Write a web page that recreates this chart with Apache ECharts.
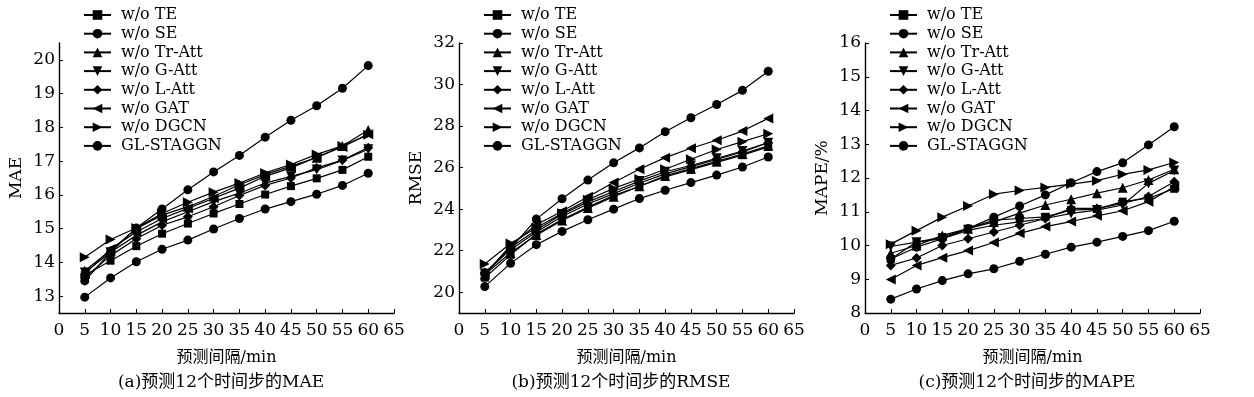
<!DOCTYPE html>
<html>
<head>
<meta charset="utf-8">
<script src="https://cdn.jsdelivr.net/npm/echarts@6/dist/echarts.min.js"></script>
<style>
html, body { margin: 0; padding: 0; background: #fff; }
#chart { width: 1254px; height: 397px; }
</style>
</head>
<body>
<div id="chart"></div>
<script>
// prediction horizons (min)
var steps = [5, 10, 15, 20, 25, 30, 35, 40, 45, 50, 55, 60];
var names = ["w/o TE", "w/o SE", "w/o Tr-Att", "w/o G-Att", "w/o L-Att", "w/o GAT", "w/o DGCN", "GL-STAGGN"];

// (a) MAE
var maeTE    = [13.62, 14.05, 14.48, 14.85, 15.15, 15.45, 15.73, 16.01, 16.26, 16.49, 16.74, 17.13];
var maeSE    = [13.45, 14.30, 15.02, 15.58, 16.15, 16.68, 17.17, 17.71, 18.21, 18.64, 19.16, 19.83];
var maeTrAtt = [13.75, 14.35, 15.00, 15.40, 15.65, 15.95, 16.30, 16.60, 16.85, 17.10, 17.45, 17.92];
var maeGAtt  = [13.70, 14.30, 14.80, 15.20, 15.50, 15.80, 16.05, 16.35, 16.55, 16.75, 17.02, 17.35];
var maeLAtt  = [13.55, 14.20, 14.70, 15.10, 15.35, 15.65, 15.98, 16.28, 16.50, 16.80, 17.03, 17.40];
var maeGAT   = [13.65, 14.40, 14.90, 15.30, 15.60, 15.90, 16.20, 16.55, 16.80, 17.12, 17.42, 17.80];
var maeDGCN  = [14.15, 14.68, 15.02, 15.45, 15.78, 16.08, 16.35, 16.65, 16.90, 17.20, 17.45, 17.78];
var maeGL    = [12.97, 13.54, 14.02, 14.39, 14.66, 14.99, 15.30, 15.58, 15.80, 16.02, 16.28, 16.64];

// (b) RMSE
var rmseTE    = [20.70, 21.80, 22.80, 23.50, 24.10, 24.65, 25.10, 25.55, 25.90, 26.25, 26.60, 27.00];
var rmseSE    = [20.90, 22.10, 23.52, 24.50, 25.40, 26.23, 26.95, 27.73, 28.40, 29.04, 29.72, 30.64];
var rmseTrAtt = [20.85, 21.90, 22.75, 23.45, 24.05, 24.60, 25.10, 25.60, 25.95, 26.30, 26.65, 27.05];
var rmseGAtt  = [20.90, 22.15, 23.00, 23.75, 24.35, 24.85, 25.35, 25.80, 26.10, 26.45, 26.80, 27.20];
var rmseLAtt  = [20.95, 22.05, 22.90, 23.65, 24.25, 24.75, 25.25, 25.70, 26.05, 26.40, 26.75, 27.20];
var rmseGAT   = [20.85, 22.25, 23.25, 23.90, 24.60, 25.28, 25.92, 26.48, 26.93, 27.32, 27.76, 28.37];
var rmseDGCN  = [21.36, 22.35, 23.10, 23.80, 24.45, 25.00, 25.45, 25.92, 26.40, 26.87, 27.25, 27.63];
var rmseGL    = [20.27, 21.39, 22.29, 22.93, 23.49, 24.00, 24.51, 24.91, 25.28, 25.64, 26.03, 26.51];

// (c) MAPE (%)
var mapeTE    = [9.60, 10.10, 10.25, 10.50, 10.75, 10.80, 10.85, 11.05, 11.08, 11.30, 11.40, 11.68];
var mapeSE    = [9.60, 9.95, 10.20, 10.50, 10.84, 11.17, 11.50, 11.86, 12.19, 12.45, 12.98, 13.52];
var mapeTrAtt = [9.77, 10.00, 10.30, 10.50, 10.70, 10.96, 11.20, 11.37, 11.55, 11.71, 11.94, 12.26];
var mapeGAtt  = [9.97, 10.10, 10.20, 10.45, 10.60, 10.70, 10.80, 10.95, 11.05, 11.20, 11.84, 12.22];
var mapeLAtt  = [9.41, 9.63, 10.00, 10.20, 10.40, 10.60, 10.80, 11.10, 11.10, 11.25, 11.45, 11.89];
var mapeGAT   = [8.99, 9.41, 9.64, 9.85, 10.09, 10.36, 10.56, 10.71, 10.88, 11.03, 11.30, 11.74];
var mapeDGCN  = [10.04, 10.44, 10.84, 11.17, 11.52, 11.63, 11.72, 11.82, 11.92, 12.11, 12.24, 12.46];
var mapeGL    = [8.41, 8.71, 8.96, 9.16, 9.31, 9.53, 9.74, 9.95, 10.10, 10.27, 10.44, 10.72];

var maeTicks = [13, 14, 15, 16, 17, 18, 19, 20];
var rmseTicks = [20, 22, 24, 26, 28, 30, 32];
var mapeTicks = [8, 9, 10, 11, 12, 13, 14, 15, 16];

var serif = "DejaVu Serif";
var zhFont = "DejaVu Serif, Noto Sans CJK SC";

var symbols = [
    "rect",
    "circle",
    "triangle",
    "path://M0,0L10,0L5,9Z",
    "diamond",
    "path://M0,5L9,0L9,10Z",
    "path://M0,0L9,5L0,10Z",
    "circle"
];
var symbolSizes = [8, 9, 10, 10, 10, 10, 10, 9];

var panels = [
    { left: 59,  yName: "MAE",    min: 12.5, max: 20.5, ticks: maeTicks,
      caption: "(a)预测12个时间步的MAE",
      data: [maeTE, maeSE, maeTrAtt, maeGAtt, maeLAtt, maeGAT, maeDGCN, maeGL] },
    { left: 459, yName: "RMSE",   min: 19,   max: 32,   ticks: rmseTicks,
      caption: "(b)预测12个时间步的RMSE",
      data: [rmseTE, rmseSE, rmseTrAtt, rmseGAtt, rmseLAtt, rmseGAT, rmseDGCN, rmseGL] },
    { left: 865, yName: "MAPE/%", min: 8,    max: 16,   ticks: mapeTicks,
      caption: "(c)预测12个时间步的MAPE",
      data: [mapeTE, mapeSE, mapeTrAtt, mapeGAtt, mapeLAtt, mapeGAT, mapeDGCN, mapeGL] }
];

var grids = [], xAxes = [], yAxes = [], legends = [], series = [], graphics = [];

panels.forEach(function (p, k) {
    grids.push({ left: p.left, top: 43, width: 335, height: 270 });
    xAxes.push({
        gridIndex: k, type: "value", min: 0, max: 65, interval: 5,
        name: "预测间隔/min", nameLocation: "middle", nameGap: 37,
        nameTextStyle: { color: "#000", fontSize: 16, fontFamily: zhFont },
        axisLine: { show: true, lineStyle: { color: "#000", width: 1.4 } },
        axisTick: { show: true, inside: true, length: 4, lineStyle: { color: "#000" } },
        axisLabel: { color: "#000", fontSize: 17, fontFamily: serif, margin: 9 },
        splitLine: { show: false }
    });
    yAxes.push({
        gridIndex: k, type: "value", min: p.min, max: p.max,
        name: p.yName, nameLocation: "middle", nameGap: 34,
        nameTextStyle: { color: "#000", fontSize: 17, fontFamily: serif },
        axisLine: { show: true, lineStyle: { color: "#000", width: 1.4 } },
        axisTick: { show: true, inside: true, length: 4, customValues: p.ticks, lineStyle: { color: "#000" } },
        axisLabel: { color: "#000", fontSize: 17, fontFamily: serif, margin: 4, customValues: p.ticks },
        splitLine: { show: false }
    });
    legends.push({
        orient: "vertical", left: p.left + 19, top: 2,
        itemWidth: 27, itemHeight: 12, itemGap: 2.7,
        textStyle: { color: "#000", fontSize: 16, fontFamily: serif, lineHeight: 16, padding: [0, 0, 0, 5] },
        data: names
    });
    p.data.forEach(function (vals, i) {
        series.push({
            type: "line", name: names[i], xAxisIndex: k, yAxisIndex: k,
            symbol: symbols[i], symbolSize: symbolSizes[i], showAllSymbol: true,
            lineStyle: { color: "#000", width: 1.2 },
            itemStyle: { color: "#000" },
            z: 10 - i,
            data: steps.map(function (s, j) { return [s, vals[j]]; })
        });
    });
    graphics.push({
        type: "text", x: p.left + 162, y: 383,
        style: { text: p.caption, align: "center", verticalAlign: "middle", fill: "#000",
                 fontSize: 17, fontFamily: zhFont }
    });
});

var chart = echarts.init(document.getElementById("chart"));
chart.setOption({
    backgroundColor: "#fff",
    animation: false,
    grid: grids,
    xAxis: xAxes,
    yAxis: yAxes,
    legend: legends,
    series: series,
    graphic: graphics
});
</script>
</body>
</html>
